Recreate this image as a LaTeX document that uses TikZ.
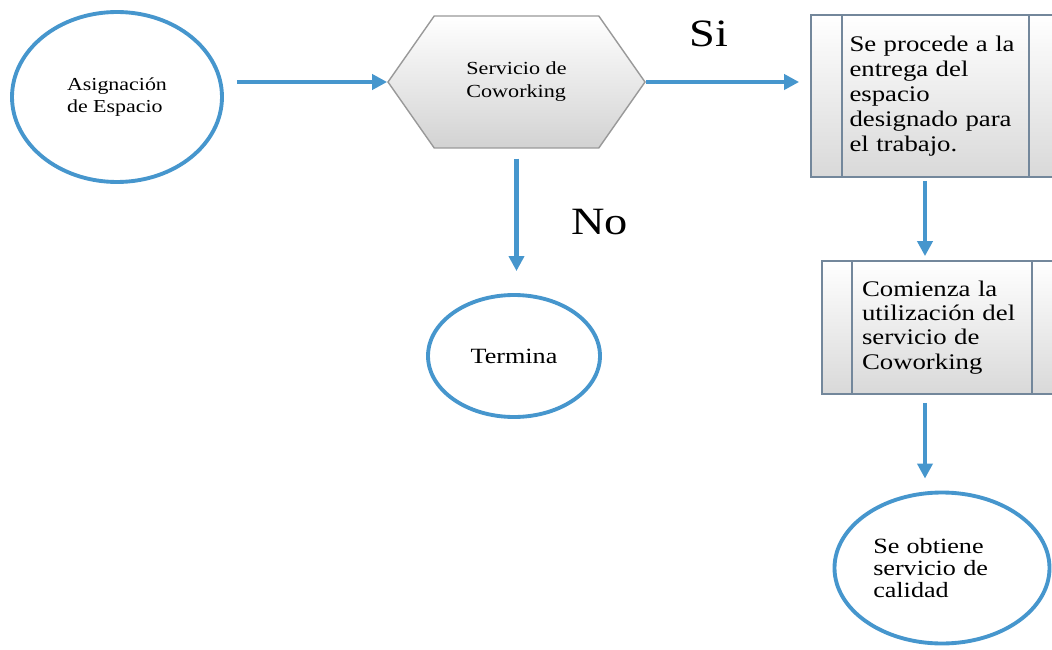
\documentclass[tikz,border=0pt]{standalone}
\usepackage{fontspec}
\setmainfont{Liberation Serif}[FakeStretch=1.2]
\usetikzlibrary{shapes.geometric,shapes.symbols,arrows.meta}
\definecolor{flowblue}{RGB}{70,150,205}
\definecolor{boxline}{RGB}{115,135,155}
\tikzset{
    flow/.style={line width=2.8pt, flowblue, -{Triangle[length=0.3cm,width=0.3cm]}},
    oval/.style={ellipse, draw=flowblue, line width=2.2pt, fill=white, align=left},
    hexbox/.style={signal, signal to=west and east, signal pointer angle=110,
        draw=gray!80, line width=0.8pt, top color=white, bottom color=gray!35,
        align=left, minimum width=5.14cm, minimum height=2.64cm},
    procbox/.style={rectangle, draw=boxline, line width=1pt, top color=white,
        bottom color=gray!30, align=left, inner sep=0pt,
        path picture={
            \draw[boxline, line width=1pt]
                ([xshift=#1]path picture bounding box.north west) -- ([xshift=#1]path picture bounding box.south west)
                ([xshift=-#1]path picture bounding box.north east) -- ([xshift=-#1]path picture bounding box.south east);
        }},
    lbl/.style={font=\fontsize{22}{24}\selectfont},
}
\begin{document}
\begin{tikzpicture}
\useasboundingbox (0,0) rectangle (21.04,12.98);

\node[oval, minimum width=4.2cm, minimum height=3.4cm, font=\fontsize{10.4}{12.5}\selectfont] (asig) at (2.34,11.04) {Asignación\\de Espacio};
\node[hexbox, font=\fontsize{10.5}{13}\selectfont] (serv) at (10.33,11.34) {Servicio de\\Coworking};
\node[procbox=0.62cm, minimum width=4.98cm, minimum height=3.24cm, text width=3.44cm, font=\fontsize{12.7}{14.2}\selectfont] (proc1) at (18.71,11.06) {Se procede a la\\entrega del\\espacio\\designado para\\el trabajo.};
\node[procbox=0.6cm, minimum width=4.8cm, minimum height=2.66cm, text width=3.2cm, font=\fontsize{12.7}{13.8}\selectfont] (proc2) at (18.84,6.43) {Comienza la\\utilización del\\servicio de\\Coworking};
\node[oval, minimum width=3.44cm, minimum height=2.44cm, font=\fontsize{12.4}{14}\selectfont] (term) at (10.28,5.86) {Termina};
\node[oval, minimum width=4.3cm, minimum height=3.02cm, text width=2.75cm, font=\fontsize{12.4}{12.5}\selectfont] (fin) at (18.84,1.62) {Se obtiene\\servicio de\\calidad};

\node[lbl] (si) at (14.18,12.30) {Si};
\node[lbl] (no) at (11.99,8.54) {No};

\draw[flow] ([xshift=0.26cm]asig.east |- serv.west) -- (serv.west);
\draw[flow] (serv.east) -- ([xshift=-0.22cm]proc1.west |- serv.east);
\draw[flow] ([yshift=-0.2cm]serv.south) -- ([yshift=0.44cm]serv.south |- term.north);
\draw[flow] ([xshift=-0.21cm,yshift=-0.06cm]proc1.south) -- ([xshift=-0.34cm,yshift=0.08cm]proc2.north);
\draw[flow] ([xshift=-0.34cm,yshift=-0.16cm]proc2.south) -- ([xshift=-0.34cm,yshift=0.24cm]fin.north);
\end{tikzpicture}
\end{document}
